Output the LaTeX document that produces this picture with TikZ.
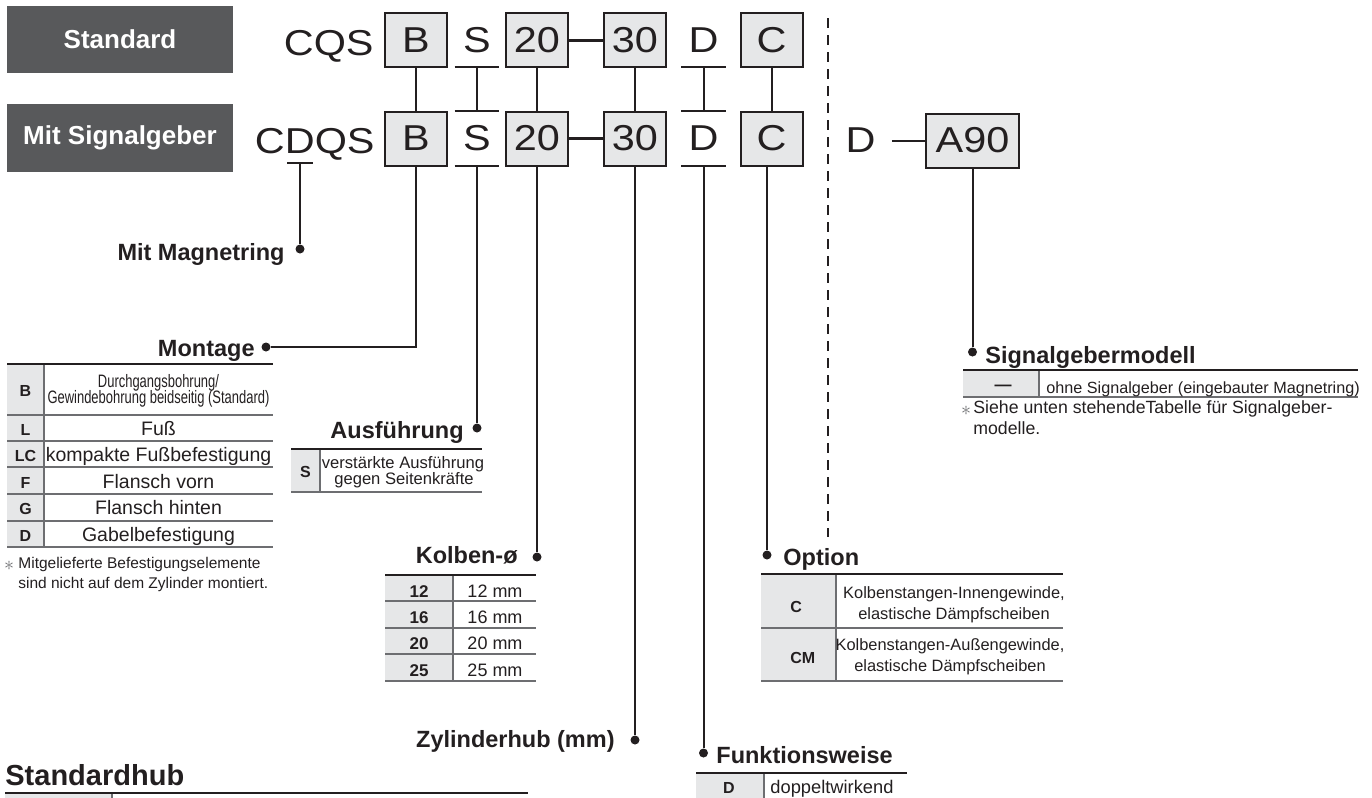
\documentclass[tikz,border=0pt]{standalone}
\usepackage{fontspec}
\setmainfont{Liberation Sans}
\newfontfamily\widefont[FakeStretch=1.15]{Liberation Sans}
\newfontfamily\narrowfont[FakeStretch=0.72]{Liberation Sans}
\usepackage{tikz}
\usetikzlibrary{positioning}
\definecolor{ink}{HTML}{231F20}
\definecolor{tagdark}{HTML}{58595B}
\definecolor{cellgray}{HTML}{E6E7E8}
\definecolor{rulegray}{HTML}{6D6E71}
\newcommand{\fbig}{\widefont\fontsize{18}{20}\selectfont}
\newcommand{\fhead}{\bfseries\fontsize{11.75}{14}\selectfont}
\newcommand{\fbody}{\fontsize{9.75}{11}\selectfont}
\newcommand{\fsmall}{\fontsize{8.2}{10}\selectfont}
\newcommand{\fnarrow}{\narrowfont\fontsize{9}{10}\selectfont}

\begin{document}
\begin{tikzpicture}[x=0.5pt,y=-0.5pt,text=ink,
   tag/.style={fill=tagdark,text=white,font=\bfseries\fontsize{13}{15}\selectfont,minimum width=113pt,inner sep=0pt},
   code/.style={draw=ink,fill=cellgray,line width=1pt,minimum width=31pt,minimum height=27pt,inner sep=0pt,font=\fbig},
   letter/.style={minimum width=22pt,minimum height=27pt,inner sep=0pt,font=\fbig},
   big/.style={inner sep=0pt,font=\fbig,anchor=base east},
   dot/.style={circle,fill=ink,inner sep=0pt,minimum size=4.5pt},
   head/.style={inner sep=0pt,font=\fhead},
   key/.style={inner sep=0pt,anchor=base,font=\bfseries\fontsize{8}{10}\selectfont},
   cell/.style={inner sep=0pt,anchor=base},
   star/.style={inner sep=0pt,anchor=base,text=rulegray,font=\fontsize{10}{10}\selectfont},
   link/.style={draw=ink,line width=1pt},
   toprule/.style={draw=ink,line width=1.25pt},
   rowrule/.style={draw=rulegray,line width=0.75pt}]
  \useasboundingbox (0,0) rectangle (1372,798);
  % order code, two rows
  \node[tag,minimum height=33.5pt] (std) at (120,39.5) {Standard};
  \node[tag,minimum height=34pt] (sig) at (120,138) {Mit Signalgeber};
  \node[big] (cqs) at (374,55) {CQS};
  \node[big] (cdqs) at (375,153) {CDQS};
  \node[code] (b1) at (416,40) {B};
  \node[code] (b2) at (416,138.5) {B};
  \node[letter] (s1) at (477,40) {S};
  \node[letter] (s2) at (477,138.5) {S};
  \node[code] (n201) at (537,40) {20};
  \node[code] (n202) at (537,138.5) {20};
  \node[code] (n301) at (635,40) {30};
  \node[code] (n302) at (635,138.5) {30};
  \node[letter] (d1) at (703.5,40) {D};
  \node[letter] (d2) at (703.5,138.5) {D};
  \node[code] (c1) at (771.5,40) {C};
  \node[code] (c2) at (771.5,138.5) {C};
  \foreach \n in {s1,s2,d1,d2}{\draw[link] (\n.south west) -- (\n.south east);}
  \foreach \n in {s2,d2}{\draw[link] (\n.north west) -- (\n.north east);}
  \foreach \a/\b in {b1/b2,s1/s2,n201/n202,n301/n302,d1/d2,c1/c2}{\draw[link] (\a) -- (\b);}
  \draw[link,line width=1.5pt] (n201) -- (n301);
  \draw[link,line width=1.5pt] (n202) -- (n302);
  \draw[ink,line width=1pt,dash pattern=on 5pt off 3.5pt] (828,18) -- (828,537);
  \node[letter,minimum width=0pt,inner xsep=8pt] (sgD) at (860.5,140.5) {D};
  \node[code,minimum width=46.5pt] (a90) at (972.5,140.5) {A90};
  \draw[link] (sgD) -- (a90);
  % Magnetring
  \draw[link] (287,163) -- (313,163);
  \coordinate (magD) at (300,163);
  \node[dot] (magDot) at (300,249) {};
  \node[head,anchor=base east] (magH) at (285,260) {Mit Magnetring};
  \draw[link] (magD) -- (magDot);
  % Montage
  \node[dot] (montDot) at (266,347) {};
  \node[head,anchor=base east] (montH) at (255,356) {Montage};
  \draw[link] (b2.south) |- (montDot);
  \fill[cellgray] (7,364) rectangle (44,547);
  \foreach \y in {415,441,467,494,521,547}{\draw[rowrule] (7,\y) -- (273,\y);}
  \draw[rowrule] (44,364) -- (44,547);
  \draw[toprule] (7,364) -- (273,364);
  \node[key] (mB) at (25.5,396) {B};
  \node[cell,font=\fnarrow] (mBt1) at (158.5,387) {Durchgangsbohrung/};
  \node[cell,font=\fnarrow] (mBt2) at (158.5,403) {Gewindebohrung beidseitig (Standard)};
  \foreach \k/\t/\y in {L/Fuß/435,LC/kompakte Fußbefestigung/461,F/Flansch vorn/488,G/Flansch hinten/514,D/Gabelbefestigung/541}{
    \node[key] (m\k) at (25.5,\y) {\k};
    \node[cell,font=\fbody] (m\k t) at (158.5,\y) {\t};}
  \node[star] (mStar) at (9,570) {$\ast$};
  \node[cell,anchor=base west,font=\fontsize{7.75}{9}\selectfont] (mNote1) at (18,568) {Mitgelieferte Befestigungselemente};
  \node[cell,anchor=base west,font=\fontsize{7.75}{9}\selectfont] (mNote2) at (18,588) {sind nicht auf dem Zylinder montiert.};
  % Ausfuehrung
  \node[dot] (ausDot) at (477,428) {};
  \node[head,anchor=base east] (ausH) at (464,438) {Ausführung};
  \draw[link] (s2) -- (ausDot);
  \fill[cellgray] (291,449) rectangle (320,492);
  \draw[rowrule] (291,492) -- (482,492);
  \draw[rowrule] (320,449) -- (320,492);
  \draw[toprule] (291,449) -- (482,449);
  \node[key] (aS) at (305.5,477) {S};
  \node[cell,font=\fontsize{8.3}{10}\selectfont] (aSt1) at (403,468) {verstärkte Ausführung};
  \node[cell,font=\fontsize{8.3}{10}\selectfont] (aSt2) at (404,484) {gegen Seitenkräfte};
  % Kolben
  \node[dot] (kolDot) at (537,557) {};
  \node[head,anchor=base east] (kolH) at (518,563) {Kolben-ø};
  \draw[link] (n202) -- (kolDot);
  \fill[cellgray] (385,575) rectangle (453,681);
  \foreach \y in {601,628,654,681}{\draw[rowrule] (385,\y) -- (536,\y);}
  \draw[rowrule] (453,575) -- (453,681);
  \draw[toprule] (385,575) -- (536,575);
  \foreach \k/\y in {12/597,16/623,20/649,25/676}{
    \node[key,font=\bfseries\fontsize{8.5}{10}\selectfont] (k\k) at (419,\y) {\k};
    \node[cell,font=\fontsize{9}{10}\selectfont] (k\k t) at (495,\y) {\k~mm};}
  % Zylinderhub
  \node[dot] (hubDot) at (635,740) {};
  \node[head,anchor=base east] (hubH) at (615,747) {Zylinderhub (mm)};
  \draw[link] (n302) -- (hubDot);
  % Funktionsweise
  \node[dot] (funDot) at (703.5,753) {};
  \node[head,anchor=base west] (funH) at (716,763) {Funktionsweise};
  \draw[link] (d2) -- (funDot);
  \fill[cellgray] (696,773) rectangle (764,798);
  \draw[rowrule] (764,773) -- (764,798);
  \draw[toprule] (696,773) -- (907,773);
  \node[key] (fD) at (729,793) {D};
  \node[cell,anchor=base west,font=\fontsize{9.15}{10}\selectfont] (fDt) at (770,793) {doppeltwirkend};
  % Option
  \node[dot] (optDot) at (767,555) {};
  \node[head,anchor=base west] (optH) at (783,565) {Option};
  \draw[link] (c2.south -| optDot) -- (optDot);
  \fill[cellgray] (761,574) rectangle (836,681);
  \foreach \y in {628,681}{\draw[rowrule] (761,\y) -- (1063,\y);}
  \draw[rowrule] (836,574) -- (836,681);
  \draw[toprule] (761,574) -- (1063,574);
  \node[key,anchor=base west] (oC) at (790,612) {C};
  \node[key,anchor=base west] (oCM) at (790,663) {CM};
  \node[cell,font=\fsmall] (oCt1) at (954,598) {Kolbenstangen-Innengewinde,};
  \node[cell,font=\fsmall] (oCt2) at (954,619) {elastische Dämpfscheiben};
  \node[cell,font=\fsmall] (oCMt1) at (950,650) {Kolbenstangen-Außengewinde,};
  \node[cell,font=\fsmall] (oCMt2) at (950,671) {elastische Dämpfscheiben};
  % Signalgebermodell
  \node[dot] (sigDot) at (972.5,352) {};
  \node[head,anchor=base west] (sigH) at (985,363) {Signalgebermodell};
  \draw[link] (a90) -- (sigDot);
  \fill[cellgray] (963,370) rectangle (1039,397);
  \draw[rowrule] (963,397) -- (1358,397);
  \draw[rowrule] (1039,370) -- (1039,397);
  \draw[toprule] (963,370) -- (1358,370);
  \node[cell,anchor=center,font=\bfseries\fontsize{8.5}{10}\selectfont] (sgNone) at (1003,388) {—};
  \node[cell,anchor=base west,font=\fontsize{8.1}{10}\selectfont] (sgNonet) at (1046,393) {ohne Signalgeber (eingebauter Magnetring)};
  \node[star] (sgStar) at (966,415) {$\ast$};
  \node[cell,anchor=base west,font=\fontsize{8.85}{10}\selectfont] (sgNote1) at (973,413) {Siehe unten stehendeTabelle für Signalgeber-};
  \node[cell,anchor=base west,font=\fontsize{8.85}{10}\selectfont] (sgNote2) at (973,434) {modelle.};
  % Standardhub
  \node[cell,anchor=base west,font=\bfseries\fontsize{14.5}{17}\selectfont] (stdHub) at (5,785) {Standardhub};
  \fill[cellgray] (5,794) rectangle (111,798);
  \draw[rowrule] (112,793) -- (112,798);
  \draw[toprule] (5,793) -- (528,793);
\end{tikzpicture}
\end{document}
